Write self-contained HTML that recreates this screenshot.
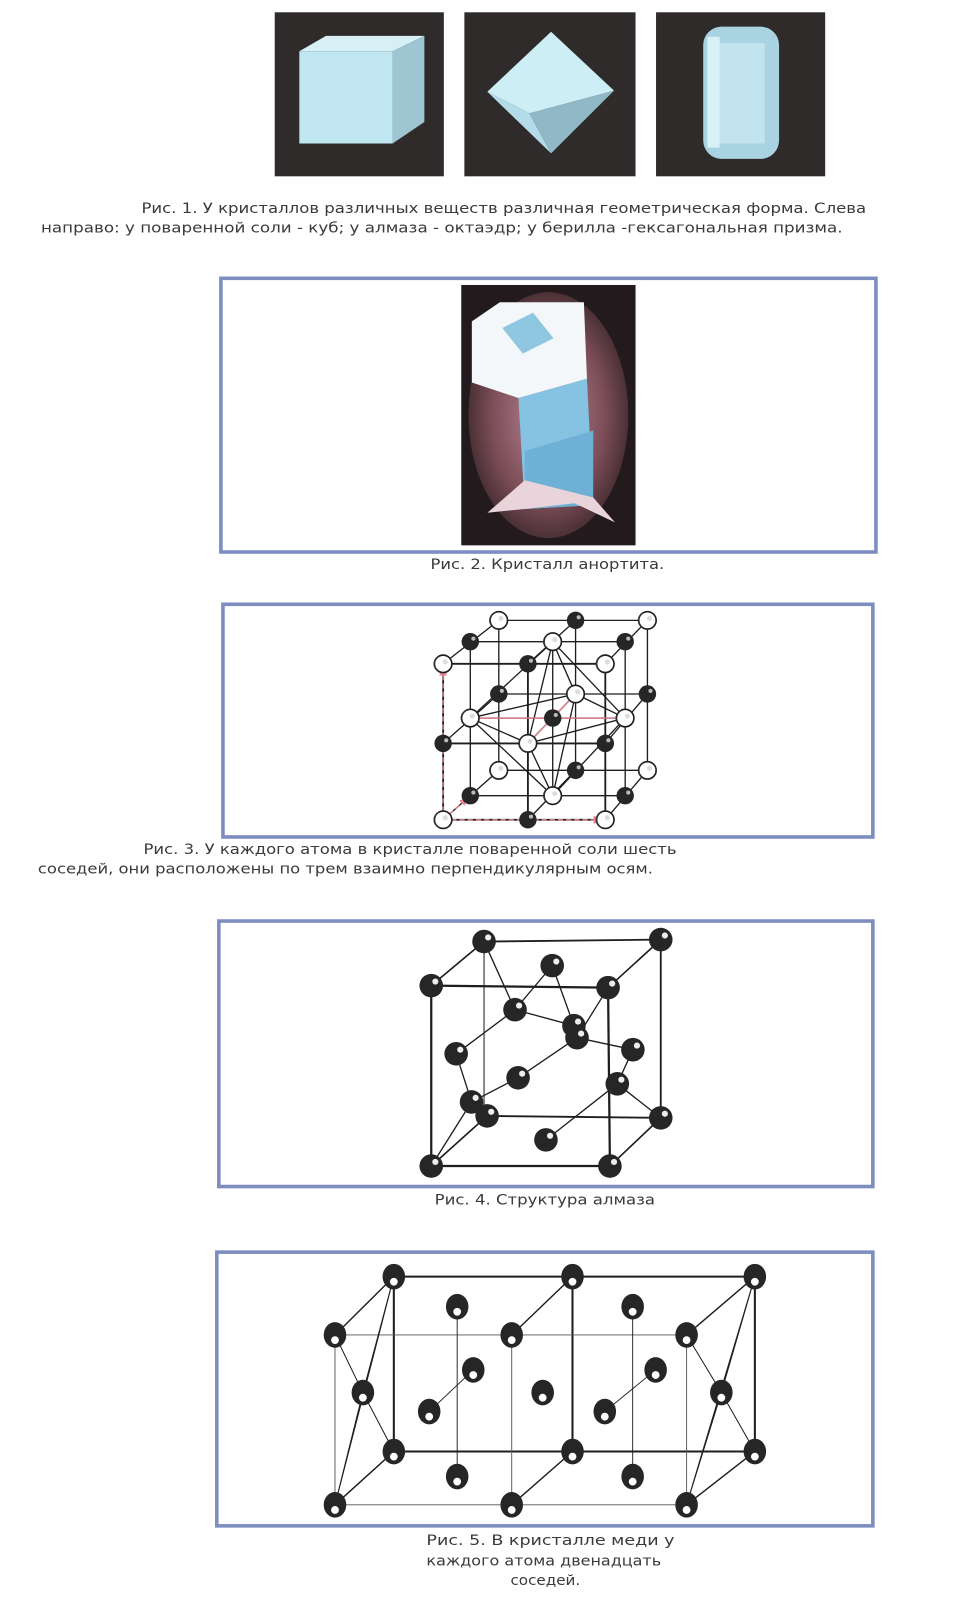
<!DOCTYPE html>
<html><head><meta charset="utf-8"><style>html,body{margin:0;padding:0;background:#fff}svg{display:block}</style></head>
<body>
<svg width="969" height="1610" viewBox="0 0 945.3 1570.6" preserveAspectRatio="none" xmlns="http://www.w3.org/2000/svg">
<defs>
<g id="wa"><circle r="8.5" fill="#fff" stroke="#1e1e1e" stroke-width="1.6"/><path d="M-3,-7.5 A8,8 0 0 0 -3,7.5 A6,7 0 0 1 -3,-7.5Z" fill="#333"/><circle cx="2" cy="-2" r="2.5" fill="#ddd"/></g>
<g id="ba"><circle r="8.5" fill="#262626"/><circle cx="3" cy="-3" r="2" fill="#bbb"/></g>
<g id="da"><circle r="11.5" fill="#262626"/><circle cx="4" cy="-4" r="3" fill="#eee"/></g>
<g id="ca"><ellipse rx="11" ry="12.5" fill="#262626"/><circle cx="0" cy="5" r="3.8" fill="#fff"/></g>
<radialGradient id="glow" cx="50%" cy="50%" r="60%"><stop offset="0" stop-color="#d8a0b0"/><stop offset="0.6" stop-color="#8a5560"/><stop offset="1" stop-color="#2a1e20"/></radialGradient>
</defs>
<rect width="945.3" height="1570.6" fill="#fff"/>

<!-- Fig 1 -->
<rect x="268" y="12" width="165" height="160" fill="#2f2b2b"/>
<rect x="453" y="12" width="167" height="160" fill="#2f2b2b"/>
<rect x="640" y="12" width="165" height="160" fill="#2f2b2b"/>
<polygon points="292,50 318,35 414,35 383,50" fill="#d6f0f6"/>
<polygon points="383,50 414,35 414,119 383,140" fill="#9ec6d2"/>
<rect x="292" y="50" width="91" height="90" fill="#bfe6f1"/>
<polygon points="537.6,31 475.4,89.5 516.4,110.6 599,88.4" fill="#cdeef5"/>
<polygon points="475.4,89.5 516.4,110.6 537.6,149.6" fill="#b4dce8"/>
<polygon points="516.4,110.6 599,88.4 537.6,149.6" fill="#90b8c6"/>
<rect x="686" y="26" width="74" height="129" rx="18" fill="#a9d3e0"/>
<rect x="700" y="42" width="46" height="98" fill="#c2e4ee"/>
<rect x="690" y="36" width="12" height="108" fill="#d8f1f7"/>

<!-- captions -->
<g font-family="DejaVu Sans, Liberation Sans, sans-serif" font-size="13.5" fill="#3a3a3a">
<text x="138" y="208" textLength="707" lengthAdjust="spacingAndGlyphs">Рис. 1. У кристаллов различных веществ различная геометрическая форма. Слева</text>
<text x="40" y="227" textLength="782" lengthAdjust="spacingAndGlyphs">направо: у поваренной соли - куб; у алмаза - октаэдр; у берилла -гексагональная призма.</text>
<text x="420" y="555" textLength="228" lengthAdjust="spacingAndGlyphs">Рис. 2. Кристалл анортита.</text>
<text x="140" y="833" textLength="520" lengthAdjust="spacingAndGlyphs">Рис. 3. У каждого атома в кристалле поваренной соли шесть</text>
<text x="37" y="852" textLength="600" lengthAdjust="spacingAndGlyphs">соседей, они расположены по трем взаимно перпендикулярным осям.</text>
<text x="424" y="1175" textLength="215" lengthAdjust="spacingAndGlyphs">Рис. 4. Структура алмаза</text>
<text x="416" y="1507" textLength="242" lengthAdjust="spacingAndGlyphs">Рис. 5. В кристалле меди у</text>
<text x="416" y="1527" textLength="229" lengthAdjust="spacingAndGlyphs">каждого атома двенадцать</text>
<text x="498" y="1546" textLength="68" lengthAdjust="spacingAndGlyphs">соседей.</text>
</g>

<!-- frames -->
<g fill="none" stroke="#7d8dc0" stroke-width="3.5">
<rect x="215.5" y="271.5" width="639" height="267"/>
<rect x="217.5" y="589.5" width="634" height="227"/>
<rect x="213.5" y="898.5" width="638" height="259"/>
<rect x="211.5" y="1221.5" width="640" height="267"/>
</g>

<!-- Fig 2 -->
<rect x="450" y="278" width="170" height="254" fill="#221a1c"/>
<ellipse cx="535" cy="405" rx="78" ry="120" fill="url(#glow)" opacity="0.85"/>
<polygon points="460.3,313.5 487.6,294.8 569.6,294.8 572.6,369.5 505.8,388.2 460.3,373.2" fill="#f4f7fa"/>
<polygon points="490,320 520,305 540,330 510,345" fill="#8fc7e0"/>
<polygon points="505.8,388.2 572.6,369.5 578.7,492.8 511.9,496.5" fill="#86c3e2"/>
<polygon points="511.9,440 578.7,420 578.7,492.8 511.9,496.5" fill="#6fb1d6"/>
<polygon points="475.5,500.2 511.9,468.5 578.7,485.3 599.9,509.6 560.5,490.9 511.9,496.5" fill="#e8d4da"/>

<!-- Fig 3 NaCl -->
<g stroke="#1e1e1e" stroke-width="1.3" fill="none">
<path d="M486.6,605.2H631.6M486.6,677H631.6M486.6,751.5H631.6M486.6,605.2V751.5M561.5,605.2V751.5M631.6,605.2V751.5"/>
<path d="M458.8,626H609.9M458.8,700.5H609.9M458.8,776.2H609.9M458.8,626V776.2M539.2,626V776.2M609.9,626V776.2"/>
<path d="M432.3,647.6H590.5M432.3,725.2H590.5M432.3,799.7H590.5M432.3,647.6V799.7M515,647.6V799.7M590.5,647.6V799.7" stroke-width="1.8"/>
<path d="M486.6,605.2L432.3,647.6M561.5,605.2L515,647.6M631.6,605.2L590.5,647.6M486.6,677L432.3,725.2M561.5,677L515,725.2M631.6,677L590.5,725.2M486.6,751.5L432.3,799.7M561.5,751.5L515,799.7M631.6,751.5L590.5,799.7"/>
<path d="M539.2,626L458.8,700.5L539.2,776.2L609.9,700.5ZM539.2,626L561.5,677L539.2,776.2L515,725.2ZM458.8,700.5L561.5,677L609.9,700.5L515,725.2Z"/>
</g>
<g stroke="#f08090" stroke-width="1.2" fill="none">
<path d="M458.8,700.5H609.9M561.5,677L515,725.2" />
<path d="M432.3,799.7V655M432.3,799.7H582M432.3,799.7L452,782" stroke-dasharray="5,3"/>
</g>
<g fill="#f08090"><polygon points="432.3,648 428.5,659 436,659"/><polygon points="590,799.7 579,795.8 579,803.6"/><polygon points="458,777 448,781 453,786"/></g>
<use href="#wa" x="486.6" y="605.2"/><use href="#ba" x="561.5" y="605.2"/><use href="#wa" x="631.6" y="605.2"/>
<use href="#ba" x="486.6" y="677"/><use href="#wa" x="561.5" y="677"/><use href="#ba" x="631.6" y="677"/>
<use href="#wa" x="486.6" y="751.5"/><use href="#ba" x="561.5" y="751.5"/><use href="#wa" x="631.6" y="751.5"/>
<use href="#ba" x="458.8" y="626"/><use href="#wa" x="539.2" y="626"/><use href="#ba" x="609.9" y="626"/>
<use href="#wa" x="458.8" y="700.5"/><use href="#ba" x="539.2" y="700.5"/><use href="#wa" x="609.9" y="700.5"/>
<use href="#ba" x="458.8" y="776.2"/><use href="#wa" x="539.2" y="776.2"/><use href="#ba" x="609.9" y="776.2"/>
<use href="#wa" x="432.3" y="647.6"/><use href="#ba" x="515" y="647.6"/><use href="#wa" x="590.5" y="647.6"/>
<use href="#ba" x="432.3" y="725.2"/><use href="#wa" x="515" y="725.2"/><use href="#ba" x="590.5" y="725.2"/>
<use href="#wa" x="432.3" y="799.7"/><use href="#ba" x="515" y="799.7"/><use href="#wa" x="590.5" y="799.7"/>

<!-- Fig 4 diamond -->
<g stroke="#1e1e1e" fill="none">
<path d="M420.7,961.5L593.2,963.5L595,1137.5L420.7,1137.5Z" stroke-width="2.2"/>
<path d="M472.2,918.5L644.6,916.6L644.6,1090.5L475.2,1088.6" stroke-width="1.8"/>
<path d="M472.2,918.5V1088.6" stroke-width="1"/>
<path d="M420.7,961.5L472.2,918.5M593.2,963.5L644.6,916.6M595,1137.5L644.6,1090.5M420.7,1137.5L475.2,1088.6" stroke-width="1.6"/>
<path d="M502.4,985L472.2,918.5M502.4,985L538.7,942M502.4,985L445,1028M502.4,985L559.9,1000.6M538.7,942L559.9,1000.6M562.9,1012.3L617.4,1024M562.9,1012.3L505.4,1051.4M562.9,1012.3L593.2,963.5M602.2,1057.3L617.4,1024M602.2,1057.3L644.6,1090.5M602.2,1057.3L532.6,1112M460,1075L420.7,1137.5M460,1075L505.4,1051.4M460,1075L445,1028" stroke-width="1.3"/>
</g>
<use href="#da" x="472.2" y="918.5"/><use href="#da" x="644.6" y="916.6"/>
<use href="#da" x="538.7" y="942"/>
<use href="#da" x="420.7" y="961.5"/><use href="#da" x="593.2" y="963.5"/>
<use href="#da" x="502.4" y="985"/>
<use href="#da" x="559.9" y="1000.6"/><use href="#da" x="562.9" y="1012.3"/>
<use href="#da" x="445" y="1028"/><use href="#da" x="617.4" y="1024"/>
<use href="#da" x="505.4" y="1051.4"/><use href="#da" x="602.2" y="1057.3"/>
<use href="#da" x="460" y="1075"/><use href="#da" x="475.2" y="1088.6"/><use href="#da" x="644.6" y="1090.5"/>
<use href="#da" x="532.6" y="1112"/>
<use href="#da" x="420.7" y="1137.5"/><use href="#da" x="595" y="1137.5"/>

<!-- Fig 5 copper -->
<g stroke="#1e1e1e" fill="none">
<path d="M384.2,1245.4H736.4M384.2,1416H736.4M384.2,1245.4V1416M558.5,1245.4V1416M736.4,1245.4V1416" stroke-width="2"/>
<path d="M326.8,1302.3H669.8M326.8,1468H669.8M326.8,1302.3V1468M499.2,1302.3V1468M669.8,1302.3V1468" stroke-width="0.9" stroke="#555"/>
<path d="M384.2,1245.4L326.8,1302.3M558.5,1245.4L499.2,1302.3M736.4,1245.4L669.8,1302.3M384.2,1416L326.8,1468M558.5,1416L499.2,1468M736.4,1416L669.8,1468" stroke-width="1.4"/>
<path d="M354,1358.5L384.2,1245.4M354,1358.5L384.2,1416M354,1358.5L326.8,1302.3M354,1358.5L326.8,1468M703.7,1358.5L736.4,1245.4M703.7,1358.5L736.4,1416M703.7,1358.5L669.8,1302.3M703.7,1358.5L669.8,1468M384.2,1245.4L326.8,1468M736.4,1245.4L669.8,1468" stroke-width="1"/>
<path d="M446,1274.7V1440.4M617.2,1274.7V1440.4M461.7,1336.4L418.7,1377M639.6,1336.4L590,1377" stroke-width="0.9"/>
</g>
<use href="#ca" x="384.2" y="1245.4"/><use href="#ca" x="558.5" y="1245.4"/><use href="#ca" x="736.4" y="1245.4"/>
<use href="#ca" x="446" y="1274.7"/><use href="#ca" x="617.2" y="1274.7"/>
<use href="#ca" x="326.8" y="1302.3"/><use href="#ca" x="499.2" y="1302.3"/><use href="#ca" x="669.8" y="1302.3"/>
<use href="#ca" x="461.7" y="1336.4"/><use href="#ca" x="639.6" y="1336.4"/>
<use href="#ca" x="354" y="1358.5"/><use href="#ca" x="529.4" y="1358.5"/><use href="#ca" x="703.7" y="1358.5"/>
<use href="#ca" x="418.7" y="1377"/><use href="#ca" x="590" y="1377"/>
<use href="#ca" x="384.2" y="1416"/><use href="#ca" x="558.5" y="1416"/><use href="#ca" x="736.4" y="1416"/>
<use href="#ca" x="446" y="1440.4"/><use href="#ca" x="617.2" y="1440.4"/>
<use href="#ca" x="326.8" y="1468"/><use href="#ca" x="499.2" y="1468"/><use href="#ca" x="669.8" y="1468"/>
</svg>
</body></html>
